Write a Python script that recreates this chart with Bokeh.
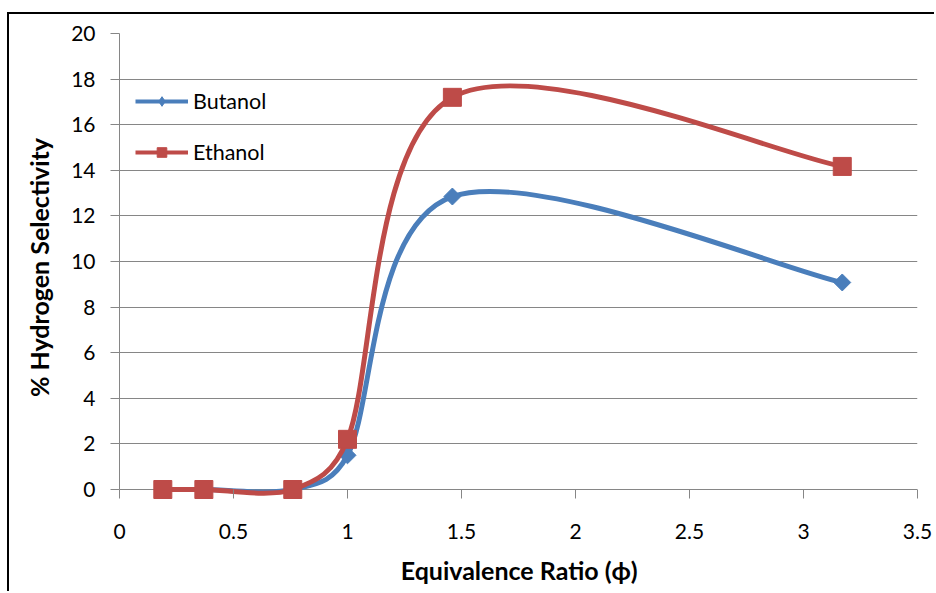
import numpy as np
from bokeh.plotting import figure
from bokeh.models import Range1d, FixedTicker, Legend, LegendItem
from bokeh.embed import file_html
from bokeh.resources import INLINE

# ---- data ----
phi = [0.19, 0.37, 0.76, 1.0, 1.46, 3.17]
butanol = [0.0, 0.0, 0.0, 1.5, 12.85, 9.08]
ethanol = [0.0, 0.0, 0.0, 2.2, 17.2, 14.17]
series_names = ["Butanol", "Ethanol"]
x_ticks = [0, 0.5, 1, 1.5, 2, 2.5, 3, 3.5]
x_tick_labels = ["0", "0.5", "1", "1.5", "2", "2.5", "3", "3.5"]
y_ticks = [0, 2, 4, 6, 8, 10, 12, 14, 16, 18, 20]
y_tick_labels = ["0", "2", "4", "6", "8", "10", "12", "14", "16", "18", "20"]

# ---- layout / style ----
OFF_X, OFF_Y = 9, 14          # page offset of the canvas (margin + border)
W, H = 936 - OFF_X, 593 - OFF_Y
PAD = 12                      # frame extends below y=0 so markers at 0 are not clipped
LEFT, RIGHT, TOP, BOTTOM = 119 - OFF_X, 19, 33 - OFF_Y, 104 - PAD
FRAME_W = W - LEFT - RIGHT
XMIN, XMAX, YMIN, YMAX = 0, 3.5, 0, 20
sx = FRAME_W / (XMAX - XMIN)
sy = (H - TOP - BOTTOM - PAD) / (YMAX - YMIN)
BLUE = "#4a7ebb"
RED = "#be4b48"
GRID = "#868686"
FONT = "Lato"


def excel_smooth(xs, ys, sx, sy):
    """Bezier control points following Excel's smoothed-line rule (screen scale)."""
    P = np.column_stack([np.asarray(xs, float) * sx, np.asarray(ys, float) * sy])
    n = len(P)
    out = {k: [] for k in ("x0", "y0", "x1", "y1", "cx0", "cy0", "cx1", "cy1")}
    for i in range(n - 1):
        p0 = P[i - 1] if i > 0 else P[i]
        p1, p2 = P[i], P[i + 1]
        p3 = P[i + 2] if i + 2 < n else P[i + 1]
        d12 = np.linalg.norm(p2 - p1)
        d02 = np.linalg.norm(p2 - p0)
        d13 = np.linalg.norm(p3 - p1)
        f = 1 / 6
        if d02 > 0 and d02 / 6 > d12 / 2:
            f = d12 / (2 * d02)
        g = 1 / 6
        if d13 > 0 and d13 / 6 > d12 / 2:
            g = d12 / (2 * d13)
        c1 = p1 + f * (p2 - p0)
        c2 = p2 - g * (p3 - p1)
        out["x0"].append(p1[0] / sx); out["y0"].append(p1[1] / sy)
        out["x1"].append(p2[0] / sx); out["y1"].append(p2[1] / sy)
        out["cx0"].append(c1[0] / sx); out["cy0"].append(c1[1] / sy)
        out["cx1"].append(c2[0] / sx); out["cy1"].append(c2[1] / sy)
    return out


p = figure(width=W, height=H, output_backend="svg", toolbar_location=None,
           x_range=Range1d(XMIN, XMAX), y_range=Range1d(YMIN - PAD / sy, YMAX),
           min_border_left=LEFT, min_border_right=RIGHT,
           min_border_top=TOP, min_border_bottom=BOTTOM)
p.outline_line_color = None
p.background_fill_color = "white"
p.border_fill_color = "white"
p.styles = {"margin-left": "7px", "margin-top": "12px",
            "border-left": "2px solid #000000", "border-top": "2px solid #000000"}

# axes
for ax in (p.xaxis[0], p.yaxis[0]):
    ax.axis_line_color = GRID
    ax.axis_line_width = 1
    ax.major_tick_line_color = GRID
    ax.major_tick_in = 0
    ax.major_tick_out = 9
    ax.minor_tick_line_color = None
    ax.major_label_text_font = FONT
    ax.major_label_text_font_size = "21px"
    ax.major_label_text_color = "#000000"
    ax.axis_label_text_font = FONT
    ax.axis_label_text_font_size = "25px"
    ax.axis_label_text_font_style = "bold"
    ax.axis_label_text_color = "#000000"

xa = p.xaxis[0]
xa.ticker = FixedTicker(ticks=x_ticks)
xa.major_label_overrides = dict(zip(x_ticks, x_tick_labels))
xa.axis_line_color = None          # the y=0 gridline plays the axis line
xa.major_tick_in = PAD             # ticks start at the y=0 line ...
xa.major_tick_out = 9 - PAD        # ... and end 9px below it
xa.major_label_standoff = 22
xa.axis_label = "Equivalence Ratio (ϕ)"
xa.axis_label_standoff = 13

ya = p.yaxis[0]
ya.ticker = FixedTicker(ticks=y_ticks)
ya.major_label_overrides = dict(zip(y_ticks, y_tick_labels))
ya.major_label_standoff = 15
ya.axis_label = "% Hydrogen Selectivity"
ya.axis_label_standoff = 14
ya.bounds = (YMIN, YMAX)

p.xgrid.grid_line_color = None
p.ygrid.ticker = FixedTicker(ticks=y_ticks)
p.ygrid.grid_line_color = GRID
p.ygrid.grid_line_width = 1

# series
items = []
for name, ys, color, marker, size, angle, lg_marker in (
        (series_names[0], butanol, BLUE, "square", 12, np.pi / 4, "diamond"),
        (series_names[1], ethanol, RED, "square", 18, 0.0, "square")):
    seg = excel_smooth(phi, ys, sx, sy)
    p.bezier(x0=seg["x0"], y0=seg["y0"], x1=seg["x1"], y1=seg["y1"],
             cx0=seg["cx0"], cy0=seg["cy0"], cx1=seg["cx1"], cy1=seg["cy1"],
             line_color=color, line_width=5, line_cap="round")
    p.scatter(x=phi, y=ys, marker=marker, size=size, angle=angle,
              fill_color=color, line_color=color, line_width=1)
    # legend proxies (a single NaN row: nothing drawn in the plot)
    lg_line = p.line(x=[np.nan], y=[np.nan], line_color=color, line_width=4)
    lg_mark = p.scatter(x=[np.nan], y=[np.nan], marker=lg_marker, size=size,
                        fill_color=color, line_color=color)
    items.append(LegendItem(label=name, renderers=[lg_line, lg_mark], index=0))

legend = Legend(items=items, location=(16, 324 + PAD))
legend.border_line_color = None
legend.background_fill_alpha = 0
legend.padding = 0
legend.margin = 0
legend.glyph_width = 53
legend.glyph_height = 24
legend.label_height = 24
legend.spacing = 25
legend.label_standoff = 5
legend.label_text_font = FONT
legend.label_text_font_size = "21.5px"
legend.label_text_color = "#000000"
p.add_layout(legend)

open("out.html", "w").write(file_html(p, INLINE))
